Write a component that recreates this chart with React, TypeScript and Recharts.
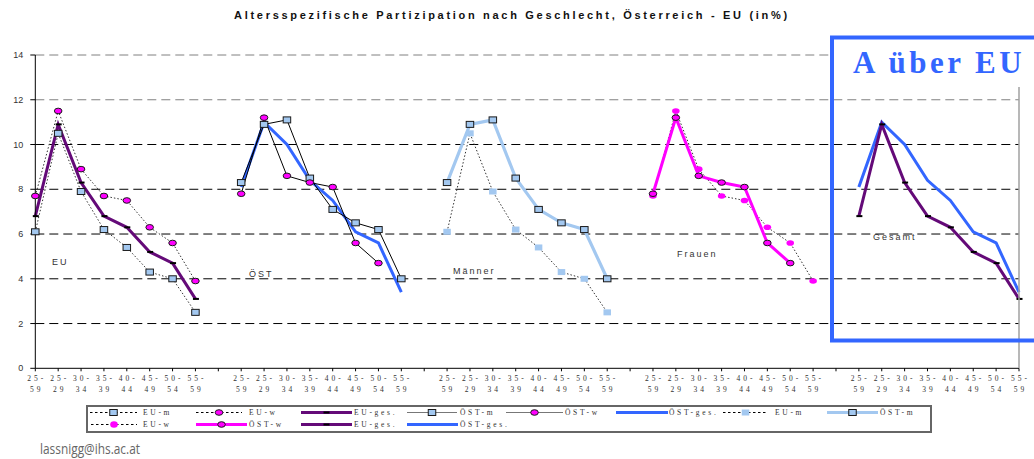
import React from "react";
import { LineChart, Line, XAxis, YAxis, ReferenceLine } from "recharts";

// ---------- data ----------
const ageGroups = ["25-59", "25-29", "30-34", "35-39", "40-44", "45-49", "50-54", "55-59"];
const euMen = [6.1, 10.5, 7.9, 6.2, 5.4, 4.3, 4.0, 2.5];
const euWomen = [7.7, 11.5, 8.9, 7.7, 7.5, 6.3, 5.6, 3.9];
const euTotal = [6.8, 10.9, 8.3, 6.8, 6.3, 5.2, 4.7, 3.1];
const atMen = [8.3, 10.9, 11.1, 8.5, 7.1, 6.5, 6.2, 4.0];
const atWomen: (number | null)[] = [7.8, 11.2, 8.6, 8.3, 8.1, 5.6, 4.7, null];
const atTotal = [8.1, 11.0, 10.0, 8.4, 7.5, 6.1, 5.6, 3.4];
const yTicks = [0, 2, 4, 6, 8, 10, 12, 14];
const panelLabels = ["EU", "ÖST", "Männer", "Frauen", "Gesamt"];

const PANEL_COUNT = 5;
const PANEL_STEP = ageGroups.length + 1;
const N = PANEL_COUNT * PANEL_STEP - 1;

const rows: any[] = Array.from({ length: N }, (_, i) => ({ key: "c" + i, label: "" }));
for (let p = 0; p < PANEL_COUNT; p++) {
  ageGroups.forEach((g, j) => {
    rows[p * PANEL_STEP + j].label = g;
  });
}
function put(panel: number, field: string, values: (number | null)[]) {
  values.forEach((v, j) => {
    rows[panel * PANEL_STEP + j][field] = v;
  });
}
put(0, "euM1", euMen);
put(0, "euW1", euWomen);
put(0, "euG1", euTotal);
put(1, "atM2", atMen);
put(1, "atW2", atWomen);
put(1, "atG2", atTotal);
put(2, "euM3", euMen);
put(2, "atM3", atMen);
put(3, "euW4", euWomen);
put(3, "atW4", atWomen);
put(4, "euG5", euTotal);
put(4, "atG5", atTotal);

// ---------- styles ----------
const LIGHT_BLUE = "#A3C8F0";
const MAGENTA = "#FF00FF";
const PURPLE = "#640A78";
const BLUE = "#3366FF";
const DOT_LINE = "#333";
const SERIF = "'Liberation Serif', 'DejaVu Serif', serif";
const SANS = "'Liberation Sans', Arial, sans-serif";

const empty = (p: any) => <g key={"e" + p.index} />;
const bad = (p: any) => p.cx == null || p.cy == null || p.value == null || isNaN(p.cy);

const squareDot = (border: boolean) => (p: any) =>
  bad(p) ? empty(p) : (
    <rect
      key={"s" + p.index}
      x={p.cx - 3.75}
      y={p.cy - 3}
      width={7.5}
      height={6}
      fill={LIGHT_BLUE}
      stroke={border ? "#1a1a1a" : "none"}
      strokeWidth={1}
    />
  );
const circleDot = (border: boolean) => (p: any) =>
  bad(p) ? empty(p) : (
    <ellipse
      key={"c" + p.index}
      cx={p.cx}
      cy={p.cy}
      rx={3.8}
      ry={2.8}
      fill={MAGENTA}
      stroke={border ? "#1a1a1a" : "none"}
      strokeWidth={1}
    />
  );
const dashDot = (p: any) =>
  bad(p) ? empty(p) : (
    <rect key={"d" + p.index} x={p.cx - 2.5} y={p.cy - 1} width={6} height={2} fill="#000" />
  );

const XTick = (props: any) => {
  const { x, y, payload } = props;
  const row = rows.find((r) => r.key === payload.value);
  if (!row || !row.label) return <g />;
  const [a, b] = row.label.split("-");
  const common = {
    textAnchor: "middle" as const,
    fontSize: 7.5,
    letterSpacing: 3,
    fontFamily: SERIF,
    fill: "#333",
  };
  return (
    <g>
      <text x={x + 1.5} y={y + 8} {...common}>
        {a + "-"}
      </text>
      <text x={x + 1.5} y={y + 19} {...common}>
        {b}
      </text>
    </g>
  );
};

type LegendItem = {
  row: number;
  x1: number;
  x2: number;
  lx: number;
  text: string;
  line: "dotted" | "gray" | "purple" | "blue" | "lightblue" | "magenta";
  marker: "sqB" | "sq" | "ciB" | "ci" | "dash" | "none";
};
const legendItems: LegendItem[] = [
  { row: 0, x1: 90, x2: 137, lx: 143, text: "EU-m", line: "dotted", marker: "sqB" },
  { row: 0, x1: 196, x2: 242, lx: 249, text: "EU-w", line: "dotted", marker: "ciB" },
  { row: 0, x1: 301, x2: 352, lx: 354, text: "EU-ges.", line: "purple", marker: "dash" },
  { row: 0, x1: 407, x2: 457, lx: 460, text: "ÖST-m", line: "gray", marker: "sqB" },
  { row: 0, x1: 506, x2: 563, lx: 565, text: "ÖST-w", line: "gray", marker: "ciB" },
  { row: 0, x1: 616, x2: 668, lx: 669, text: "ÖST-ges.", line: "blue", marker: "none" },
  { row: 0, x1: 723, x2: 768, lx: 775, text: "EU-m", line: "dotted", marker: "sq" },
  { row: 0, x1: 827, x2: 878, lx: 880, text: "ÖST-m", line: "lightblue", marker: "sqB" },
  { row: 1, x1: 91, x2: 137, lx: 143, text: "EU-w", line: "dotted", marker: "ci" },
  { row: 1, x1: 196, x2: 247, lx: 249, text: "ÖST-w", line: "magenta", marker: "ciB" },
  { row: 1, x1: 301, x2: 352, lx: 354, text: "EU-ges.", line: "purple", marker: "dash" },
  { row: 1, x1: 407, x2: 458, lx: 460, text: "ÖST-ges.", line: "blue", marker: "none" },
];

const lineStyle: Record<string, any> = {
  dotted: { stroke: "#000", strokeWidth: 1, strokeDasharray: "2.5 2.5" },
  gray: { stroke: "#777", strokeWidth: 1.2 },
  purple: { stroke: PURPLE, strokeWidth: 3 },
  blue: { stroke: BLUE, strokeWidth: 3 },
  lightblue: { stroke: LIGHT_BLUE, strokeWidth: 3 },
  magenta: { stroke: MAGENTA, strokeWidth: 3 },
};

function legendMarker(m: string, cx: number, cy: number) {
  switch (m) {
    case "sqB":
      return <rect x={cx - 3.75} y={cy - 3} width={7.5} height={6} fill={LIGHT_BLUE} stroke="#1a1a1a" />;
    case "sq":
      return <rect x={cx - 3.75} y={cy - 3} width={7.5} height={6} fill={LIGHT_BLUE} />;
    case "ciB":
      return <ellipse cx={cx} cy={cy} rx={3.8} ry={2.8} fill={MAGENTA} stroke="#1a1a1a" />;
    case "ci":
      return <ellipse cx={cx} cy={cy} rx={3.8} ry={3.2} fill={MAGENTA} />;
    case "dash":
      return <rect x={cx - 3} y={cy - 1} width={6} height={2} fill="#000" />;
    default:
      return null;
  }
}

const panelLabelPos = [
  { x: 52, y: 265 },
  { x: 249, y: 276.5 },
  { x: 453, y: 274 },
  { x: 677, y: 256.5 },
  { x: 873, y: 240 },
];

export default function App() {
  return (
    <div style={{ position: "relative", width: 1034, height: 459, background: "#fff", overflow: "hidden" }}>
      <style>{"body{margin:0;background:#fff}"}</style>
      <LineChart
        width={1034}
        height={459}
        data={rows}
        margin={{ top: 55, right: 15, bottom: 60.7, left: 5.3 }}
      >
        {[2, 4, 6, 8, 10, 12, 14].map((v) => (
          <ReferenceLine
            key={"g" + v}
            y={v}
            stroke={v >= 12 ? "#808080" : "#000"}
            strokeWidth={1}
            strokeDasharray="9 5"
          />
        ))}
        <XAxis
          dataKey="key"
          type="category"
          scale="point"
          interval={0}
          height={30}
          tick={<XTick />}
          tickSize={3}
          tickMargin={2}
          axisLine={{ stroke: "#000", strokeWidth: 1 }}
          tickLine={{ stroke: "#000" }}
        />
        <YAxis
          domain={[0, 14]}
          ticks={yTicks}
          width={30}
          tickSize={5}
          tickMargin={7}
          interval={0}
          axisLine={{ stroke: "#000", strokeWidth: 1 }}
          tickLine={{ stroke: "#000" }}
          tick={{ fontSize: 9, fill: "#333", fontFamily: SANS }}
        />

        {/* Panel 1: EU */}
        <Line dataKey="euG1" isAnimationActive={false} stroke={PURPLE} strokeWidth={3} dot={dashDot} activeDot={false} />
        <Line dataKey="euM1" isAnimationActive={false} stroke={DOT_LINE} strokeWidth={1} strokeDasharray="1.5 2" dot={squareDot(true)} activeDot={false} />
        <Line dataKey="euW1" isAnimationActive={false} stroke={DOT_LINE} strokeWidth={1} strokeDasharray="1.5 2" dot={circleDot(true)} activeDot={false} />

        {/* Panel 2: ÖST */}
        <Line dataKey="atG2" isAnimationActive={false} stroke={BLUE} strokeWidth={3} dot={false} activeDot={false} />
        <Line dataKey="atM2" isAnimationActive={false} stroke="#000" strokeWidth={1} dot={squareDot(true)} activeDot={false} />
        <Line dataKey="atW2" isAnimationActive={false} stroke="#000" strokeWidth={1} dot={circleDot(true)} activeDot={false} />

        {/* Panel 3: Männer */}
        <Line dataKey="euM3" isAnimationActive={false} stroke={DOT_LINE} strokeWidth={1} strokeDasharray="1.5 2" dot={squareDot(false)} activeDot={false} />
        <Line dataKey="atM3" isAnimationActive={false} stroke={LIGHT_BLUE} strokeWidth={3.2} dot={squareDot(true)} activeDot={false} />

        {/* Panel 4: Frauen */}
        <Line dataKey="euW4" isAnimationActive={false} stroke={DOT_LINE} strokeWidth={1} strokeDasharray="1.5 2" dot={circleDot(false)} activeDot={false} />
        <Line dataKey="atW4" isAnimationActive={false} stroke={MAGENTA} strokeWidth={3} dot={circleDot(true)} activeDot={false} />

        {/* Panel 5: Gesamt */}
        <Line dataKey="atG5" isAnimationActive={false} stroke={BLUE} strokeWidth={3} dot={false} activeDot={false} />
        <Line dataKey="euG5" isAnimationActive={false} stroke={PURPLE} strokeWidth={3} dot={dashDot} activeDot={false} />
      </LineChart>

      <svg
        width={1034}
        height={459}
        style={{ position: "absolute", left: 0, top: 0, pointerEvents: "none" }}
      >
        {/* title */}
        <text
          x={512}
          y={19}
          textAnchor="middle"
          fontFamily={SANS}
          fontWeight="bold"
          fontSize={11}
          letterSpacing={2.7}
          fill="#111"
        >
          Altersspezifische Partizipation nach Geschlecht, Österreich - EU (in%)
        </text>

        {/* panel labels */}
        {panelLabels.map((t, i) => (
          <text
            key={t}
            x={panelLabelPos[i].x}
            y={panelLabelPos[i].y}
            fontFamily={SANS}
            fontSize={9}
            letterSpacing={2}
            fill="#333"
          >
            {t}
          </text>
        ))}

        {/* right gray vertical line */}
        <line x1={1019} y1={87} x2={1019} y2={368} stroke="#a0a0a0" strokeWidth={1.5} />

        {/* highlight box */}
        <rect x={834} y={40} width={200} height={38} fill="#fff" />
        <rect x={832} y={37.5} width={210} height={303} fill="none" stroke={BLUE} strokeWidth={4} />
        <text
          x={853}
          y={73}
          fontFamily={SERIF}
          fontWeight="bold"
          fontSize={31}
          letterSpacing={3.5}
          fill={BLUE}
        >
          A über EU
        </text>

        {/* legend */}
        <rect x={87} y={406} width={844} height={26} fill="#fff" stroke="#666" strokeWidth={2} />
        {legendItems.map((it, i) => {
          const cy = it.row === 0 ? 412.5 : 424.5;
          const cx = (it.x1 + it.x2) / 2;
          return (
            <g key={"li" + i}>
              <line x1={it.x1} y1={cy} x2={it.x2} y2={cy} {...lineStyle[it.line]} />
              {legendMarker(it.marker, cx, cy)}
              <text
                x={it.lx}
                y={cy + 2.5}
                fontFamily={SERIF}
                fontSize={7.5}
                letterSpacing={2.7}
                fill="#333"
              >
                {it.text}
              </text>
            </g>
          );
        })}

        {/* footer */}
        <text
          x={40}
          y={454}
          fontFamily="'Open Sans', 'Noto Sans', sans-serif"
          fontSize={14}
          textLength={100}
          lengthAdjust="spacingAndGlyphs"
          fill="#666"
        >
          lassnigg@ihs.ac.at
        </text>
      </svg>
    </div>
  );
}
